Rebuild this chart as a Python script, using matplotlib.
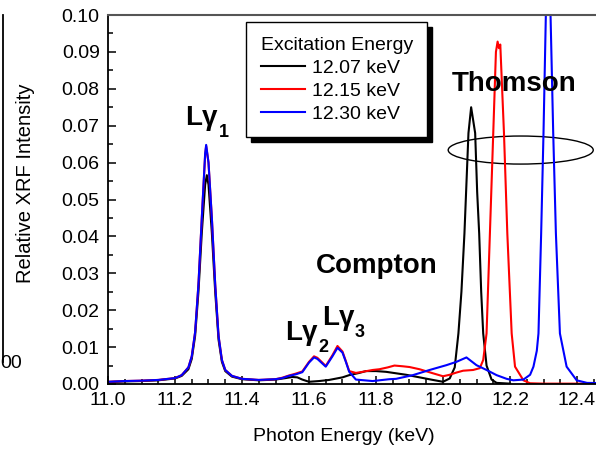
import numpy as np
import matplotlib
matplotlib.use("Agg")
import matplotlib.pyplot as plt
from matplotlib.patches import Ellipse, Rectangle
from matplotlib.ticker import MultipleLocator
from matplotlib.transforms import IdentityTransform

plt.rcParams["font.family"] = ["Liberation Sans", "DejaVu Sans"]

# spectra (photon energy in keV, relative XRF intensity)
x_1207 = [11.00, 11.05, 11.10, 11.15, 11.20, 11.22, 11.24, 11.25, 11.26, 11.27,
          11.28, 11.29, 11.295, 11.30, 11.31, 11.32, 11.33, 11.34, 11.35, 11.37,
          11.40, 11.45, 11.50, 11.53, 11.55, 11.565, 11.58, 11.60, 11.63, 11.66,
          11.70, 11.72, 11.75, 11.77, 11.80, 11.83, 11.86, 11.89, 11.93, 11.97,
          12.00, 12.02, 12.035, 12.046, 12.055, 12.064, 12.076, 12.084, 12.096, 12.102,
          12.108, 12.114, 12.12, 12.13, 12.145, 12.16, 12.20]
y_1207 = [0.0005, 0.0007, 0.0008, 0.0010, 0.0015, 0.0022, 0.0040, 0.0068, 0.0130, 0.0250,
          0.0410, 0.0540, 0.0566, 0.0540, 0.0410, 0.0250, 0.0120, 0.0060, 0.0035, 0.0020,
          0.0013, 0.0010, 0.0012, 0.0016, 0.0019, 0.0018, 0.0012, 0.0006, 0.0008, 0.0011,
          0.0018, 0.0024, 0.0030, 0.0035, 0.0035, 0.0033, 0.0029, 0.0025, 0.0018, 0.0011,
          0.0006, 0.0015, 0.0045, 0.0137, 0.0250, 0.0408, 0.0680, 0.0750, 0.0680, 0.0520,
          0.0408, 0.0250, 0.0137, 0.0050, 0.0012, 0.0003, 0.0001]

x_1215 = [11.00, 11.05, 11.10, 11.15, 11.20, 11.22, 11.24, 11.25, 11.26, 11.27,
          11.28, 11.29, 11.293, 11.30, 11.31, 11.32, 11.33, 11.34, 11.35, 11.37,
          11.40, 11.45, 11.50, 11.52, 11.54, 11.56, 11.58, 11.60, 11.615, 11.625,
          11.65, 11.67, 11.685, 11.70, 11.71, 11.72, 11.74, 11.76, 11.79, 11.81,
          11.835, 11.855, 11.88, 11.90, 11.93, 11.97, 12.00, 12.02, 12.04, 12.06,
          12.09, 12.11, 12.12, 12.13, 12.14, 12.15, 12.158, 12.163, 12.167, 12.171,
          12.182, 12.192, 12.205, 12.215, 12.24, 12.26, 12.30, 12.50]
y_1215 = [0.0006, 0.0008, 0.0009, 0.0011, 0.0016, 0.0024, 0.0045, 0.0075, 0.0140, 0.0270,
          0.0450, 0.0620, 0.0645, 0.0600, 0.0450, 0.0270, 0.0130, 0.0065, 0.0038, 0.0022,
          0.0014, 0.0011, 0.0013, 0.0017, 0.0023, 0.0028, 0.0034, 0.0060, 0.0075, 0.0071,
          0.0049, 0.0078, 0.0103, 0.0088, 0.0062, 0.0035, 0.0030, 0.0033, 0.0038, 0.0040,
          0.0045, 0.0050, 0.0048, 0.0046, 0.0040, 0.0029, 0.0021, 0.0025, 0.0031, 0.0036,
          0.0038, 0.0043, 0.0065, 0.0137, 0.0408, 0.0680, 0.0900, 0.0928, 0.0910, 0.0920,
          0.0680, 0.0408, 0.0137, 0.0047, 0.0010, 0.0002, 0.0001, 0.0001]

x_1230 = [11.00, 11.05, 11.10, 11.15, 11.20, 11.22, 11.24, 11.25, 11.26, 11.27,
          11.28, 11.29, 11.293, 11.30, 11.31, 11.32, 11.33, 11.34, 11.35, 11.37,
          11.40, 11.45, 11.50, 11.52, 11.54, 11.56, 11.58, 11.60, 11.615, 11.625,
          11.65, 11.67, 11.685, 11.70, 11.71, 11.72, 11.74, 11.79, 11.84, 11.86,
          11.91, 11.96, 12.01, 12.04, 12.07, 12.10, 12.13, 12.16, 12.19, 12.21,
          12.24, 12.26, 12.27, 12.28, 12.285, 12.293, 12.30, 12.307, 12.314, 12.321,
          12.329, 12.337, 12.349, 12.369, 12.399, 12.43, 12.50]
y_1230 = [0.0006, 0.0008, 0.0009, 0.0011, 0.0016, 0.0024, 0.0045, 0.0075, 0.0140, 0.0270,
          0.0450, 0.0625, 0.0648, 0.0600, 0.0450, 0.0270, 0.0130, 0.0065, 0.0038, 0.0022,
          0.0014, 0.0011, 0.0013, 0.0016, 0.0022, 0.0026, 0.0032, 0.0058, 0.0072, 0.0068,
          0.0047, 0.0075, 0.0098, 0.0085, 0.0060, 0.0033, 0.0012, 0.0008, 0.0013, 0.0014,
          0.0024, 0.0038, 0.0051, 0.0060, 0.0072, 0.0051, 0.0038, 0.0024, 0.0014, 0.0010,
          0.0012, 0.0025, 0.0047, 0.0090, 0.0137, 0.0408, 0.0680, 0.1000, 0.1050, 0.1000,
          0.0680, 0.0408, 0.0137, 0.0047, 0.0010, 0.0003, 0.0002]

series = [
    (x_1207, y_1207, "black", "12.07 keV"),
    (x_1215, y_1215, "red", "12.15 keV"),
    (x_1230, y_1230, "blue", "12.30 keV"),
]

# L-gamma line labels: (x, y of baseline, subscript)
lg_labels = [(11.23, 0.0702, "1"), (11.528, 0.0119, "2"), (11.638, 0.0160, "3")]

W, H = 596, 453
fig = plt.figure(figsize=(W / 100, H / 100), dpi=100)
# axes runs past the right edge of the picture, like the cropped original
ax = fig.add_axes([108 / W, 1 - 384 / H, 502.5 / W, 369 / H])

for x, y, c, lab in series:
    ax.plot(x, y, color=c, lw=1.5, label=lab)

ax.set_xlim(11.0, 12.5)
ax.set_ylim(0.0, 0.10)
ax.xaxis.set_major_locator(MultipleLocator(0.2))
ax.xaxis.set_minor_locator(MultipleLocator(0.05))
ax.yaxis.set_major_locator(MultipleLocator(0.01))
ax.yaxis.set_minor_locator(MultipleLocator(0.005))
ax.xaxis.set_major_formatter(lambda v, p: f"{v:.1f}")
ax.yaxis.set_major_formatter(lambda v, p: f"{v:.2f}")
ax.tick_params(which="both", direction="in", top=False, right=False,
               labelsize=14, width=1.1, color="black")
ax.tick_params(which="major", length=6, pad=6)
ax.tick_params(which="minor", length=3.5)
for s in ["left", "bottom"]:
    ax.spines[s].set_linewidth(1.3)
ax.spines["top"].set_color("#555555")
ax.spines["top"].set_linewidth(1.5)
ax.spines["right"].set_visible(False)

ax.set_xlabel("Photon Energy (keV)", fontsize=14)
ax.xaxis.set_label_coords((344 - 108) / 502.5, -(428 - 384) / 369)
ax.set_ylabel("Relative XRF Intensity", fontsize=14.5)
ax.yaxis.set_label_coords(-(108 - 35) / 502.5, 0.545)

# peak labels
lg_texts = []
for x, y, sub in lg_labels:
    t = ax.text(x, y, "Lγ", fontsize=20, fontweight="bold", ha="left", va="baseline")
    lg_texts.append((t, x, y, sub))
ax.text(11.621, 0.0301, "Compton", fontsize=20, fontweight="bold", ha="left", va="baseline")
ax.text(12.026, 0.0795, "Thomson", fontsize=20, fontweight="bold", ha="left", va="baseline")
ax.add_patch(Ellipse((12.232, 0.0634), 0.433, 0.0076, fill=False, ec="black", lw=1.0))

leg = ax.legend(title="Excitation Energy", loc="upper left",
                bbox_to_anchor=(246 / W, 1 - 22 / H), bbox_transform=fig.transFigure,
                fontsize=14, title_fontsize=14, alignment="left", fancybox=False,
                framealpha=1, edgecolor="black", borderaxespad=0, borderpad=0.75,
                handlelength=2.3, handletextpad=0.35, labelspacing=0.28)
leg.get_frame().set_linewidth(1.0)
leg.set_zorder(5)

fig.canvas.draw()
renderer = fig.canvas.get_renderer()

# subscripts sit low, just right of the gamma
for t, x, y, sub in lg_texts:
    bb = t.get_window_extent(renderer)
    base = ax.transData.transform((x, y))[1]
    fig.text(bb.x1 + 1, base - 12, sub, fontsize=13, fontweight="bold",
             ha="left", va="baseline", transform=IdentityTransform())

# solid drop shadow behind the legend box
bb = leg.get_window_extent(renderer)
fig.patches.append(Rectangle((bb.x0 + 5, bb.y0 - 5), bb.width, bb.height,
                             transform=IdentityTransform(), color="black", zorder=0.5))
ax.set_zorder(1)
ax.patch.set_alpha(0)

# edge of the neighbouring panel, cut off by the crop
fig.add_artist(plt.Line2D([3 / W, 3 / W], [1 - 15 / H, 1 - 362 / H], color="black", lw=1.3))
fig.text(0, 1 - 363 / H, "00", fontsize=14, ha="left", va="center")

fig.savefig("out.png", dpi=100)
